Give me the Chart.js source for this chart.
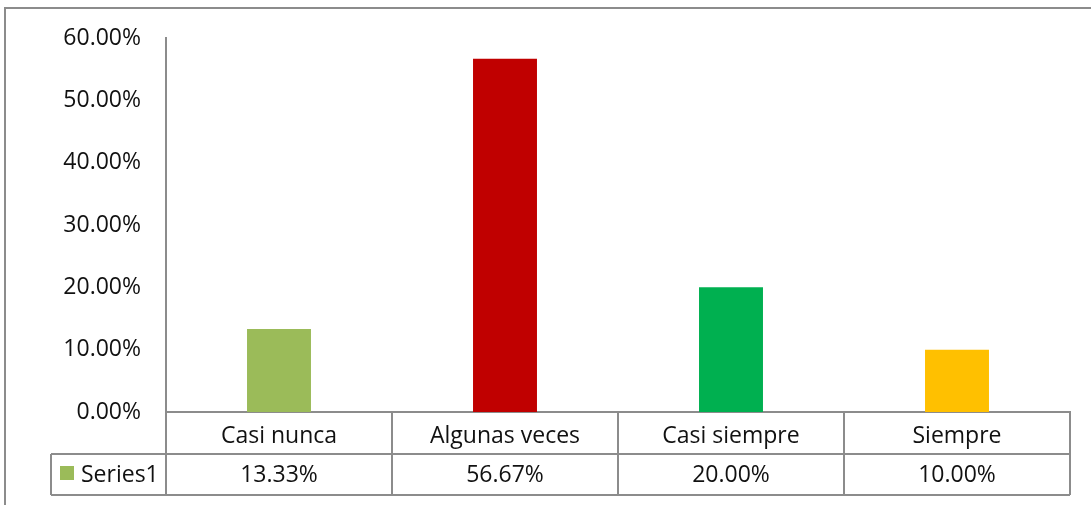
<!DOCTYPE html>
<html>
<head>
<meta charset="utf-8">
<script src="https://cdn.jsdelivr.net/npm/chart.js@4/dist/chart.umd.min.js"></script>
<style>
  html, body { margin: 0; padding: 0; background: #fff; }
  #chart { display: block; }
</style>
</head>
<body>
<canvas id="chart" width="1091" height="505"></canvas>
<script>
var categories = ['Casi nunca', 'Algunas veces', 'Casi siempre', 'Siempre'];
var seriesName = 'Series1';
var seriesValues = [0.1333, 0.5667, 0.20, 0.10];
var barColors = ['#9BBB59', '#C00000', '#00B050', '#FFC000'];
var yTicks = [0, 0.1, 0.2, 0.3, 0.4, 0.5, 0.6];

var lineColor = '#8C8C8C';
var textColor = '#111';
var fontFamily = '"Open Sans", "Noto Sans", sans-serif';
var fontSize = 23;

function pct(v) {
  return (v * 100).toFixed(2) + '%';
}

// data table under the x axis, plus the outer frame
var tablePlugin = {
  id: 'dataTable',
  afterDraw: function(chart) {
    var ctx = chart.ctx;
    var x = chart.scales.x;
    var area = chart.chartArea;
    var rowTop = area.bottom;
    var rowMid = rowTop + 42;
    var rowBot = rowMid + 41;
    var keyLeft = 51;
    var colW = (area.right - area.left) / categories.length;

    ctx.save();
    ctx.strokeStyle = lineColor;
    ctx.lineWidth = 2;
    ctx.beginPath();
    // frame
    ctx.moveTo(5, chart.height);
    ctx.lineTo(5, 8);
    ctx.lineTo(chart.width, 8);
    // axis line continues down through the table
    ctx.moveTo(area.left, area.bottom);
    ctx.lineTo(area.left, rowBot);
    // row lines
    ctx.moveTo(keyLeft, rowMid);
    ctx.lineTo(area.right, rowMid);
    ctx.moveTo(keyLeft, rowBot);
    ctx.lineTo(area.right, rowBot);
    ctx.moveTo(keyLeft, rowMid);
    ctx.lineTo(keyLeft, rowBot);
    for (var i = 0; i < categories.length; i++) {
      var cx = x.getPixelForValue(i) + colW / 2;
      ctx.moveTo(cx, rowTop);
      ctx.lineTo(cx, rowBot);
    }
    ctx.stroke();

    // legend key
    ctx.fillStyle = barColors[0];
    ctx.fillRect(60, rowMid + 12, 14, 14);
    ctx.fillStyle = textColor;
    ctx.font = fontSize + 'px ' + fontFamily;
    ctx.textBaseline = 'middle';
    ctx.textAlign = 'left';
    ctx.fillText(seriesName, 81, (rowMid + rowBot) / 2 + 1);

    // values row
    ctx.textAlign = 'center';
    for (var j = 0; j < seriesValues.length; j++) {
      ctx.fillText(pct(seriesValues[j]), x.getPixelForValue(j), (rowMid + rowBot) / 2 + 1);
    }
    ctx.restore();
  }
};

var ctx = document.getElementById('chart').getContext('2d');
new Chart(ctx, {
  type: 'bar',
  data: {
    labels: categories,
    datasets: [{
      label: seriesName,
      data: seriesValues,
      backgroundColor: barColors,
      borderWidth: 0,
      barPercentage: 0.283,
      categoryPercentage: 1
    }]
  },
  options: {
    responsive: false,
    animation: false,
    layout: { padding: { top: 38, right: 21, left: 0, bottom: 0 } },
    plugins: {
      legend: { display: false },
      tooltip: { enabled: false }
    },
    scales: {
      y: {
        min: 0,
        max: 0.6,
        afterFit: function(scale) { scale.width = 166; },
        afterBuildTicks: function(scale) {
          scale.ticks = yTicks.map(function(v) { return { value: v }; });
        },
        grid: { display: false },
        border: { display: true, color: lineColor, width: 2 },
        ticks: {
          padding: 17,
          color: textColor,
          font: { family: fontFamily, size: fontSize },
          callback: function(v) { return pct(v); }
        }
      },
      x: {
        afterFit: function(scale) { scale.height = 93; },
        grid: { display: false },
        border: { display: true, color: lineColor, width: 2 },
        ticks: {
          padding: 3,
          autoSkip: false,
          maxRotation: 0,
          color: textColor,
          font: { family: fontFamily, size: fontSize }
        }
      }
    }
  },
  plugins: [tablePlugin]
});
</script>
</body>
</html>
